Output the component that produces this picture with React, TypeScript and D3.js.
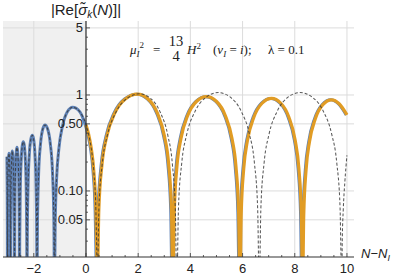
import * as d3 from "d3";

// readings: N - N_I and |Re[sigma_k(N)]|
// left part (N < 0), shared by the blue curve and the dashed curve
const leftN = [
  -3.03, -3.02, -3.013, -3.008,
  -3.003, -2.994, -2.98, -2.95, -2.922, -2.906, -2.898, -2.893,
  -2.886, -2.874, -2.855, -2.824, -2.79, -2.762, -2.748, -2.739,
  -2.73, -2.715, -2.69, -2.644, -2.598, -2.573, -2.557, -2.548,
  -2.539, -2.519, -2.482, -2.438, -2.402, -2.367, -2.324, -2.288, -2.269, -2.26,
  -2.248, -2.219, -2.169, -2.108, -2.057, -2.012, -1.958, -1.913, -1.888, -1.877,
  -1.859, -1.816, -1.739, -1.647, -1.57, -1.479, -1.37, -1.28, -1.229, -1.207,
  -1.179, -1.123, -1.04, -0.9, -0.719, -0.51, -0.228,
];
const leftV = [
  0.227, 0.12, 0.05, 0.01,
  0.033, 0.095, 0.18, 0.247, 0.18, 0.095, 0.033, 0.01,
  0.037, 0.1, 0.19, 0.26, 0.19, 0.1, 0.037, 0.01,
  0.042, 0.11, 0.206, 0.285, 0.206, 0.11, 0.042, 0.01,
  0.031, 0.1, 0.212, 0.301, 0.326, 0.301, 0.212, 0.1, 0.031, 0.01,
  0.036, 0.117, 0.247, 0.351, 0.38, 0.351, 0.247, 0.117, 0.036, 0.01,
  0.046, 0.15, 0.316, 0.45, 0.487, 0.45, 0.316, 0.15, 0.046, 0.01,
  0.047, 0.139, 0.274, 0.475, 0.664, 0.745, 0.664,
];

// orange curve (N >= 0)
const orangeN = [
  0, 0.1, 0.2, 0.3, 0.38, 0.41, 0.43,
  0.492, 0.615, 0.8, 1.107, 1.508, 1.97, 2.378, 2.732, 3.004, 3.167, 3.276, 3.33,
  3.382, 3.485, 3.64, 3.898, 4.233, 4.62, 5.004, 5.337, 5.593, 5.746, 5.849, 5.9,
  5.948, 6.045, 6.19, 6.432, 6.747, 7.11, 7.467, 7.776, 8.014, 8.157, 8.252, 8.3,
  8.344, 8.433, 8.566, 8.788, 9.077, 9.41, 9.7, 10.0,
];
const orangeV = [
  0.49, 0.39, 0.28, 0.16, 0.062, 0.025, 0.01,
  0.064, 0.191, 0.375, 0.65, 0.909, 1.02, 0.909, 0.65, 0.375, 0.191, 0.064, 0.01,
  0.06, 0.18, 0.353, 0.612, 0.855, 0.96, 0.855, 0.612, 0.353, 0.18, 0.06, 0.01,
  0.058, 0.172, 0.339, 0.586, 0.82, 0.92, 0.82, 0.586, 0.339, 0.172, 0.058, 0.01,
  0.056, 0.166, 0.328, 0.567, 0.793, 0.89, 0.81, 0.62,
];
// the blue curve runs a hair left of the orange one for N > 0
const blueShift = -0.03;

// dashed curve (N >= 0)
const dashedN = [
  0, 0.1, 0.2, 0.3, 0.38, 0.41, 0.43,
  0.495, 0.624, 0.819, 1.143, 1.564, 2.05, 2.479, 2.851, 3.137, 3.308, 3.423, 3.48,
  3.544, 3.671, 3.862, 4.18, 4.593, 5.07, 5.541, 5.949, 6.263, 6.452, 6.577, 6.64,
  6.702, 6.827, 7.014, 7.326, 7.732, 8.2, 8.68, 9.096, 9.416, 9.608, 9.736, 9.8,
  9.82, 9.86, 9.92, 10.0,
];
const dashedV = [
  0.49, 0.39, 0.28, 0.16, 0.062, 0.025, 0.01,
  0.065, 0.193, 0.379, 0.656, 0.918, 1.03, 0.918, 0.656, 0.379, 0.193, 0.065, 0.01,
  0.067, 0.198, 0.39, 0.675, 0.944, 1.06, 0.944, 0.675, 0.39, 0.198, 0.067, 0.01,
  0.067, 0.198, 0.39, 0.675, 0.944, 1.06, 0.944, 0.675, 0.39, 0.198, 0.067, 0.01,
  0.03, 0.065, 0.125, 0.235,
];

const xTicks = [-2, 0, 2, 4, 6, 8, 10];
const yTicks = [0.05, 0.1, 0.5, 1, 5];
const yTickLabels = ["0.05", "0.10", "0.50", "1", "5"];
const yMinor = [0.03, 0.04, 0.06, 0.07, 0.08, 0.09, 0.2, 0.3, 0.4, 0.6, 0.7, 0.8, 0.9, 2, 3, 4];

const W = 395;
const H = 278;
const left = 3;
const right = 354;
const top = 21;
const bottom = 257;

const x = d3.scaleLinear().domain([-3.18, 10.27]).range([left, right]);
const y = d3.scaleLog().domain([0.0205, 5.9]).range([bottom, top]);

type Pt = [number, number];
const zip = (ns: number[], vs: number[]): Pt[] => ns.map((n, i) => [n, vs[i]]);

const leftPts = zip(leftN, leftV);
const orangePts = zip(orangeN, orangeV);
const bluePts = leftPts.concat(orangePts.map(([n, v]) => [n + blueShift, v] as Pt));
const dashedPts = leftPts.concat(zip(dashedN, dashedV));

const line = d3
  .line<Pt>()
  .x((d) => x(d[0]))
  .y((d) => y(d[1]))
  .curve(d3.curveMonotoneX);

const sans = "Liberation Sans, Arial, sans-serif";
const serif = "Liberation Serif, Times New Roman, serif";

const minorX = d3.range(-3, 10.01, 0.5);

export default function App() {
  const x0 = x(0);
  return (
    <svg
      width={W}
      height={H}
      style={{ position: "fixed", left: 0, top: 0, background: "#fff" }}
    >
      <defs>
        <clipPath id="plot">
          <rect x={left} y={top} width={right - left} height={bottom - top} />
        </clipPath>
      </defs>

      {/* shaded N < 0 region */}
      <rect x={left} y={top} width={x0 - left} height={bottom - top} fill="#f0f0f0" />

      {/* grid */}
      {xTicks.map((t) => (
        <line key={"gx" + t} x1={x(t)} x2={x(t)} y1={top} y2={bottom} stroke="#dcdcdc" strokeWidth={1} />
      ))}
      {yTicks.map((t) => (
        <line key={"gy" + t} x1={left} x2={right} y1={y(t)} y2={y(t)} stroke="#dcdcdc" strokeWidth={1} />
      ))}

      {/* curves */}
      <g clipPath="url(#plot)" fill="none">
        <path d={line(bluePts) ?? ""} stroke="#5E81B5" strokeWidth={3} />
        <path d={line(orangePts) ?? ""} stroke="#E19C24" strokeWidth={3.2} />
        <path d={line(dashedPts) ?? ""} stroke="#3a3a3a" strokeWidth={1.05} strokeDasharray="3,2" opacity={0.85} />
      </g>

      {/* axes */}
      <line x1={left} x2={right} y1={bottom} y2={bottom} stroke="#333" strokeWidth={1.2} />
      <line x1={x0} x2={x0} y1={top} y2={bottom} stroke="#333" strokeWidth={1.2} />
      {minorX.map((t) => (
        <line
          key={"tx" + t}
          x1={x(t)}
          x2={x(t)}
          y1={bottom}
          y2={bottom - (Math.abs(t % 2) < 1e-9 ? 4 : 2)}
          stroke="#333"
          strokeWidth={0.8}
        />
      ))}
      {yTicks.map((t) => (
        <line key={"ty" + t} x1={x0} x2={x0 + 4} y1={y(t)} y2={y(t)} stroke="#333" strokeWidth={0.8} />
      ))}
      {yMinor.map((t) => (
        <line key={"tym" + t} x1={x0} x2={x0 + 2} y1={y(t)} y2={y(t)} stroke="#333" strokeWidth={0.8} />
      ))}

      {/* tick labels */}
      {xTicks.map((t) => (
        <text key={"lx" + t} x={x(t)} y={273} textAnchor="middle" fontFamily={sans} fontSize={13} fill="#222">
          {t < 0 ? "\u2212" + Math.abs(t) : String(t)}
        </text>
      ))}
      {yTicks.map((t, i) => (
        <text key={"ly" + t} x={x0 - 3} y={y(t) + 4.5} textAnchor="end" fontFamily={sans} fontSize={13} fill="#222">
          {yTickLabels[i]}
        </text>
      ))}

      {/* axis labels */}
      <text x={x0} y={15} textAnchor="middle" fontFamily={sans} fontSize={15} fill="#222">
        |Re[<tspan fontStyle="italic">{"\u03C3\u0303"}</tspan>
        <tspan fontStyle="italic" fontSize={10} dy={3}>k</tspan>
        <tspan dy={-3}>(</tspan>
        <tspan fontStyle="italic">N</tspan>)]|
      </text>
      <text x={361} y={258} fontFamily={sans} fontSize={13} fill="#222">
        <tspan fontStyle="italic">N</tspan>
        {"\u2212"}
        <tspan fontStyle="italic">N</tspan>
        <tspan fontStyle="italic" fontSize={9} dy={3}>I</tspan>
      </text>

      {/* annotation */}
      <g fontFamily={serif} fontSize={13} fill="#222">
        <text x={130} y={54}>
          <tspan fontStyle="italic">μ</tspan>
          <tspan fontStyle="italic" fontSize={9} dy={3}>I</tspan>
          <tspan fontSize={9} dy={-9}>2</tspan>
        </text>
        <text x={153} y={54}>=</text>
        <text x={176} y={45.5} textAnchor="middle" fontSize={14.5}>13</text>
        <text x={176} y={60.5} textAnchor="middle" fontSize={14.5}>4</text>
        <text x={187} y={54}>
          <tspan fontStyle="italic">H</tspan>
          <tspan fontSize={9} dy={-5}>2</tspan>
        </text>
        <text x={213} y={54} style={{ whiteSpace: "pre" }}>
          (<tspan fontStyle="italic">ν</tspan>
          <tspan fontStyle="italic" fontSize={9} dy={3}>I</tspan>
          <tspan dy={-3}>{" = "}</tspan>
          <tspan fontStyle="italic">i</tspan>);
        </text>
        <text x={268} y={54} style={{ whiteSpace: "pre" }}>
          {"λ = 0.1"}
        </text>
      </g>
    </svg>
  );
}
